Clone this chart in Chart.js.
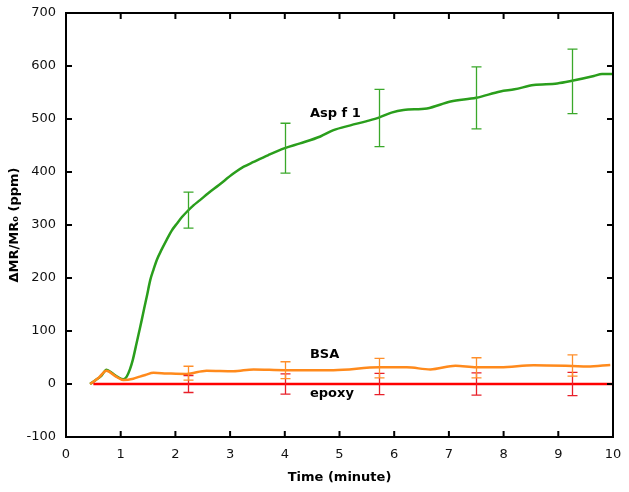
<!DOCTYPE html>
<html>
<head>
<meta charset="utf-8">
<script src="https://cdn.jsdelivr.net/npm/chart.js@4.4.1/dist/chart.umd.min.js"></script>
<style>
  html, body { margin: 0; padding: 0; background: #fff; }
  canvas { display: block; }
</style>
</head>
<body>
<canvas id="chart" width="629" height="492"></canvas>
<script>
// data (time in minutes, signal in ppm)
const aspX = [0.44, 0.55, 0.65, 0.74, 0.85, 0.95, 1.05, 1.11, 1.17, 1.22, 1.29, 1.34, 1.385, 1.43, 1.477, 1.54, 1.6, 1.66, 1.75, 1.84, 1.93, 2.03, 2.12, 2.21, 2.33, 2.45, 2.6, 2.79, 3.06, 3.25, 3.43, 3.7, 4.0, 4.28, 4.65, 4.89, 5.2, 5.5, 5.73, 5.95, 6.17, 6.6, 7.03, 7.5, 7.94, 8.2, 8.55, 8.98, 9.25, 9.65, 9.8, 10.0];
const aspY = [0, 8, 16, 27, 20, 13, 9, 14, 28, 45, 77, 100, 121, 143, 165, 196, 216, 234, 254, 272, 289, 303, 315, 325, 337, 347, 360, 375, 397, 410, 419, 432, 445, 454, 467, 479, 488, 496, 503, 512, 517, 520, 533, 540, 552, 556, 564, 567, 572, 581, 585, 585];

const bsaX = [0.44, 0.6, 0.74, 0.9, 1.05, 1.23, 1.35, 1.45, 1.6, 1.84, 2.2, 2.57, 3.06, 3.43, 4.0, 4.28, 4.89, 5.73, 6.23, 6.66, 7.12, 7.5, 7.94, 8.55, 9.25, 9.53, 9.95];
const bsaY = [0, 12, 25, 15, 7.5, 10, 14, 17, 21, 20, 19, 25, 24, 27.5, 26, 26, 26, 31.5, 31.5, 27.5, 34.5, 31.5, 31.5, 35.5, 34, 33, 36];

const epoxyX = [0.5, 10.0];
const epoxyY = [0, 0];

// error bars
const errX = [2.23, 4.0, 5.73, 7.5, 9.25];
const aspErrMid = [328, 445, 502, 540, 571];
const aspErr = [34, 47, 54, 58.5, 61];
const bsaErrMid = [20.5, 26, 30, 30.5, 35];
const bsaErr = [13, 16, 18.5, 19, 20];
const epoxyErrMid = [0, 0, 0, 0, 0];
const epoxyErr = [16, 19, 20, 21, 22];

const xTicks = [0, 1, 2, 3, 4, 5, 6, 7, 8, 9, 10];
const yTicks = [-100, 0, 100, 200, 300, 400, 500, 600, 700];

const seriesLabels = ['Asp f 1', 'BSA', 'epoxy'];
const labelPos = [[4.46, 511], [4.46, 56], [4.46, -19]];

const GREEN = '#2a9e1c';
const ORANGE = '#ff8a1c';
const RED = '#ff0000';
const FONT = 'DejaVu Sans, Verdana, sans-serif';

function pts(xs, ys) {
    return xs.map((x, i) => ({x: x, y: ys[i]}));
}

const errorBars = {
    id: 'errorBars',
    afterDatasetsDraw(chart) {
        const ctx = chart.ctx;
        const xs = chart.scales.x, ys = chart.scales.y;
        const sets = [
            [epoxyErrMid, epoxyErr, '#e8202a'],
            [bsaErrMid, bsaErr, '#ff8f2a'],
            [aspErrMid, aspErr, '#3aa82a']
        ];
        ctx.save();
        ctx.lineWidth = 1.3;
        sets.forEach(s => {
            ctx.strokeStyle = s[2];
            errX.forEach((x, i) => {
                const px = Math.round(xs.getPixelForValue(x)) + 0.5;
                const top = ys.getPixelForValue(s[0][i] + s[1][i]);
                const bot = ys.getPixelForValue(s[0][i] - s[1][i]);
                ctx.beginPath();
                ctx.moveTo(px, top); ctx.lineTo(px, bot);
                ctx.moveTo(px - 5, top); ctx.lineTo(px + 5, top);
                ctx.moveTo(px - 5, bot); ctx.lineTo(px + 5, bot);
                ctx.stroke();
            });
        });
        ctx.restore();
    }
};

const frame = {
    id: 'frame',
    afterDraw(chart) {
        const ctx = chart.ctx;
        const a = chart.chartArea;
        const xs = chart.scales.x, ys = chart.scales.y;
        ctx.save();
        ctx.strokeStyle = '#000';
        ctx.lineWidth = 2;
        ctx.strokeRect(a.left, a.top, a.right - a.left, a.bottom - a.top);
        ctx.beginPath();
        xTicks.forEach(v => {
            const px = xs.getPixelForValue(v);
            ctx.moveTo(px, a.bottom); ctx.lineTo(px, a.bottom - 6);
            ctx.moveTo(px, a.top); ctx.lineTo(px, a.top + 6);
        });
        yTicks.forEach(v => {
            const py = ys.getPixelForValue(v);
            ctx.moveTo(a.left, py); ctx.lineTo(a.left + 6, py);
            ctx.moveTo(a.right, py); ctx.lineTo(a.right - 6, py);
        });
        ctx.stroke();

        // series labels
        ctx.fillStyle = '#000';
        ctx.font = 'bold 13px ' + FONT;
        ctx.textBaseline = 'middle';
        ctx.textAlign = 'left';
        seriesLabels.forEach((t, i) => {
            ctx.fillText(t, xs.getPixelForValue(labelPos[i][0]), ys.getPixelForValue(labelPos[i][1]));
        });
        ctx.restore();
    }
};

new Chart(document.getElementById('chart'), {
    type: 'line',
    data: {
        datasets: [
            {data: pts(epoxyX, epoxyY), borderColor: RED, borderWidth: 2.5},
            {data: pts(bsaX, bsaY), borderColor: ORANGE, borderWidth: 2.5},
            {data: pts(aspX, aspY), borderColor: GREEN, borderWidth: 2.5}
        ]
    },
    options: {
        responsive: false,
        devicePixelRatio: 1,
        animation: false,
        events: [],
        layout: {padding: {top: 13, right: 16, left: 0, bottom: 0}},
        elements: {
            point: {radius: 0},
            line: {cubicInterpolationMode: 'monotone', fill: false}
        },
        plugins: {legend: {display: false}, tooltip: {enabled: false}},
        scales: {
            x: {
                type: 'linear', min: 0, max: 10,
                afterBuildTicks: s => { s.ticks = xTicks.map(v => ({value: v})); },
                afterFit: s => { s.height = 55; },
                grid: {display: false},
                border: {display: false},
                ticks: {color: '#111', padding: 2, font: {family: FONT, size: 13}},
                title: {display: true, text: 'Time (minute)', color: '#000', padding: {top: 0, bottom: 7},
                        font: {family: FONT, size: 13, weight: 'bold'}}
            },
            y: {
                type: 'linear', min: -100, max: 700,
                afterBuildTicks: s => { s.ticks = yTicks.map(v => ({value: v})); },
                afterFit: s => { s.width = 66; },
                grid: {display: false},
                border: {display: false},
                ticks: {color: '#111', padding: 2, font: {family: FONT, size: 13}},
                title: {display: true, text: 'ΔMR/MR₀ (ppm)', color: '#000', padding: {top: 7, bottom: 0},
                        font: {family: FONT, size: 13, weight: 'bold'}}
            }
        }
    },
    plugins: [errorBars, frame]
});
</script>
</body>
</html>
